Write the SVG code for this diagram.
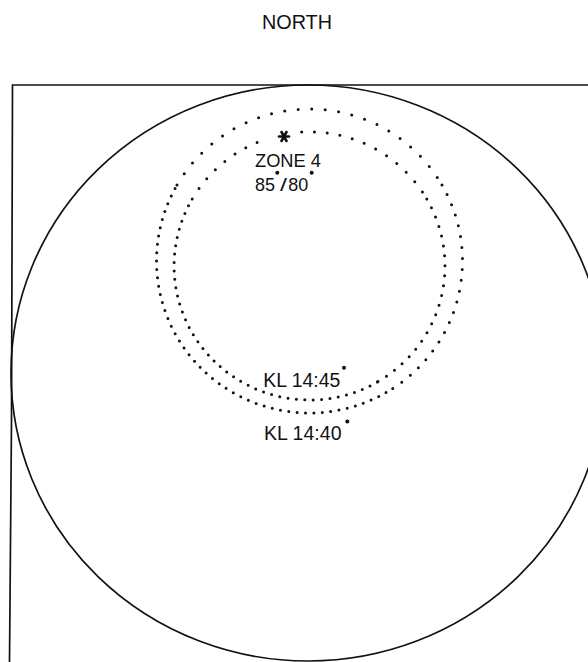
<svg xmlns="http://www.w3.org/2000/svg" width="588" height="662" viewBox="0 0 588 662">
<style>
  .lbl { font-family: "Liberation Sans", "DejaVu Sans", sans-serif; fill: #111; }
  .line { fill: none; stroke: #111; stroke-width: 1.7; }
  .dots { fill: none; stroke: #111; stroke-width: 3; stroke-linecap: round; }
  .deg { fill: #111; }
</style>
<rect width="588" height="662" fill="#fff"/>
<g id="north">
  <text class="lbl" x="262" y="29" font-size="20" textLength="70" lengthAdjust="spacingAndGlyphs">NORTH</text>
</g>
<g id="frame">
  <polyline class="line" points="588,85 12.5,85 11.5,420 9.5,662"/>
</g>
<g id="field">
  <ellipse class="line" cx="308" cy="373" rx="297" ry="288"/>
</g>
<g id="isopter-outer">
  <path class="dots" stroke-dasharray="0 13.5" d="M177,185 A153,152 0 0 1 442,185"/>
  <path class="dots" stroke-dasharray="0 11" d="M442,185 A153,152 0 0 1 386,392.6"/>
  <path class="dots" stroke-dasharray="0 8.4" d="M386,392.6 A153,152 0 0 1 177,185"/>
</g>
<g id="isopter-inner">
  <path class="dots" stroke-dasharray="0 12.5" d="M192.2,199 A135.5,134 0 0 1 267.6,138.6"/>
  <path class="dots" stroke-dasharray="0 12.8" d="M301.7,132.1 A135.5,134 0 0 1 426.8,199"/>
  <path class="dots" stroke-dasharray="0 10" d="M426.8,199 A135.5,134 0 0 1 377.3,382"/>
  <path class="dots" stroke-dasharray="0 8.4" d="M377.3,382 A135.5,134 0 0 1 192.2,199"/>
</g>
<g id="star">
  <g stroke="#111" stroke-width="2.6" stroke-linecap="round">
    <line x1="279" y1="136.5" x2="289" y2="136.5"/>
    <line x1="281.5" y1="132" x2="286.5" y2="141"/>
    <line x1="286.5" y1="132" x2="281.5" y2="141"/>
  </g>
</g>
<g id="zone4">
  <text class="lbl" x="255" y="166.7" font-size="18.5" textLength="66" lengthAdjust="spacingAndGlyphs">ZONE 4</text>
  <text class="lbl" x="255" y="190.5" font-size="19" textLength="20" lengthAdjust="spacingAndGlyphs">85</text>
  <circle class="deg" cx="277.3" cy="172.7" r="2"/>
  <text class="lbl" x="280" y="190.5" font-size="19" textLength="7" lengthAdjust="spacingAndGlyphs">/</text>
  <text class="lbl" x="288.3" y="190.5" font-size="19" textLength="20" lengthAdjust="spacingAndGlyphs">80</text>
  <circle class="deg" cx="311.7" cy="172.7" r="2"/>
</g>
<g id="kl1445">
  <text class="lbl" x="263.3" y="386.7" font-size="19.5" textLength="77" lengthAdjust="spacingAndGlyphs">KL 14:45</text>
  <circle class="deg" cx="344" cy="367.7" r="2"/>
</g>
<g id="kl1440">
  <text class="lbl" x="264" y="439.5" font-size="19.5" textLength="77.5" lengthAdjust="spacingAndGlyphs">KL 14:40</text>
  <circle class="deg" cx="347.3" cy="421.5" r="2"/>
</g>
</svg>
